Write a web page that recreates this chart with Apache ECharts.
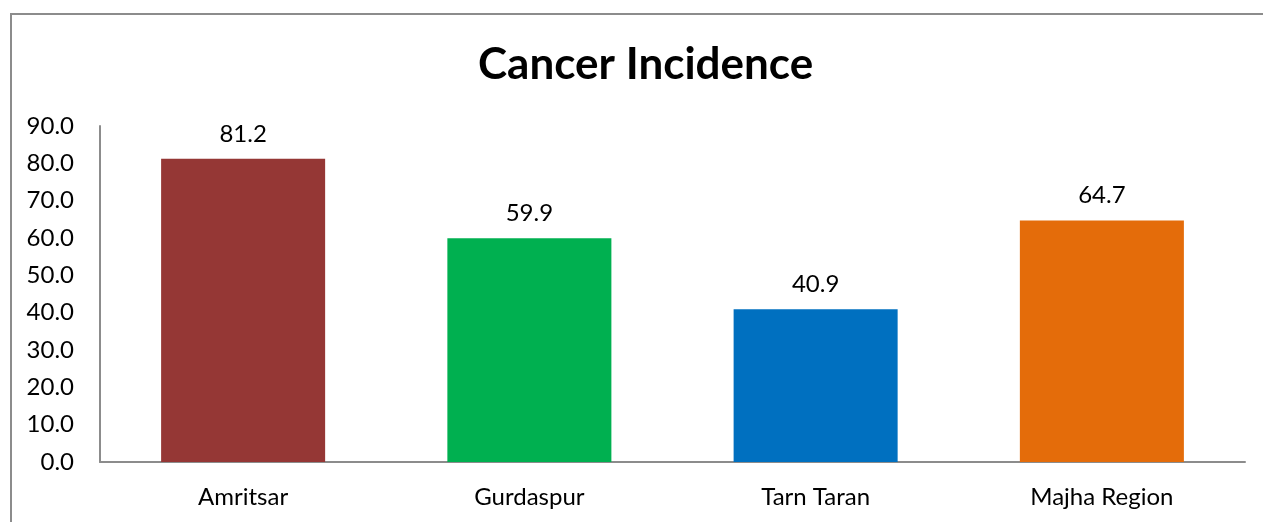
<!DOCTYPE html>
<html>
<head>
<meta charset="utf-8">
<script src="https://cdn.jsdelivr.net/npm/echarts@6/dist/echarts.min.js"></script>
<style>
  html, body { margin: 0; padding: 0; background: #fff; }
  #frame {
    position: absolute; left: 10px; top: 13px; width: 1260px; height: 520px;
    border-left: 2px solid #8c8c8c; border-top: 2px solid #8c8c8c;
  }
  #main { position: absolute; left: 0; top: 0; width: 1263px; height: 522px; }
</style>
</head>
<body>
<div id="frame"></div>
<div id="main"></div>
<script>
const categories = ["Amritsar", "Gurdaspur", "Tarn Taran", "Majha Region"];
const incidence = [81.2, 59.9, 40.9, 64.7];
const barColors = ["#953735", "#00B050", "#0070C0", "#E46C0A"];

const font = "Lato, 'Open Sans', sans-serif";
const chart = echarts.init(document.getElementById("main"));
const option = {
  animation: false,
  title: {
    text: "Cancer Incidence",
    left: 473,
    top: 38,
    textStyle: { fontFamily: font, fontSize: 44, fontWeight: "bold", color: "#000" },
  },
  grid: { left: 100, right: 18, top: 126, bottom: 60 },
  xAxis: {
    type: "category",
    data: categories,
    axisLine: { lineStyle: { color: "#8c8c8c", width: 2 } },
    axisTick: { show: false },
    axisLabel: { fontFamily: font, fontSize: 24, color: "#000", margin: 23 },
  },
  yAxis: {
    type: "value",
    min: 0,
    max: 90,
    interval: 10,
    axisLine: { show: true, lineStyle: { color: "#8c8c8c", width: 2 } },
    axisTick: { show: false },
    splitLine: { show: false },
    axisLabel: {
      fontFamily: font, fontSize: 24, color: "#000", margin: 26,
      formatter: (v) => v.toFixed(1),
    },
  },
  series: [
    {
      type: "bar",
      barWidth: "57.3%",
      data: incidence.map((v, i) => ({ value: v, itemStyle: { color: barColors[i] } })),
      label: {
        show: true,
        position: "top",
        distance: 13,
        fontFamily: font,
        fontSize: 24,
        color: "#000",
        formatter: (p) => p.value.toFixed(1),
      },
    },
  ],
};
chart.setOption(option);
</script>
</body>
</html>
